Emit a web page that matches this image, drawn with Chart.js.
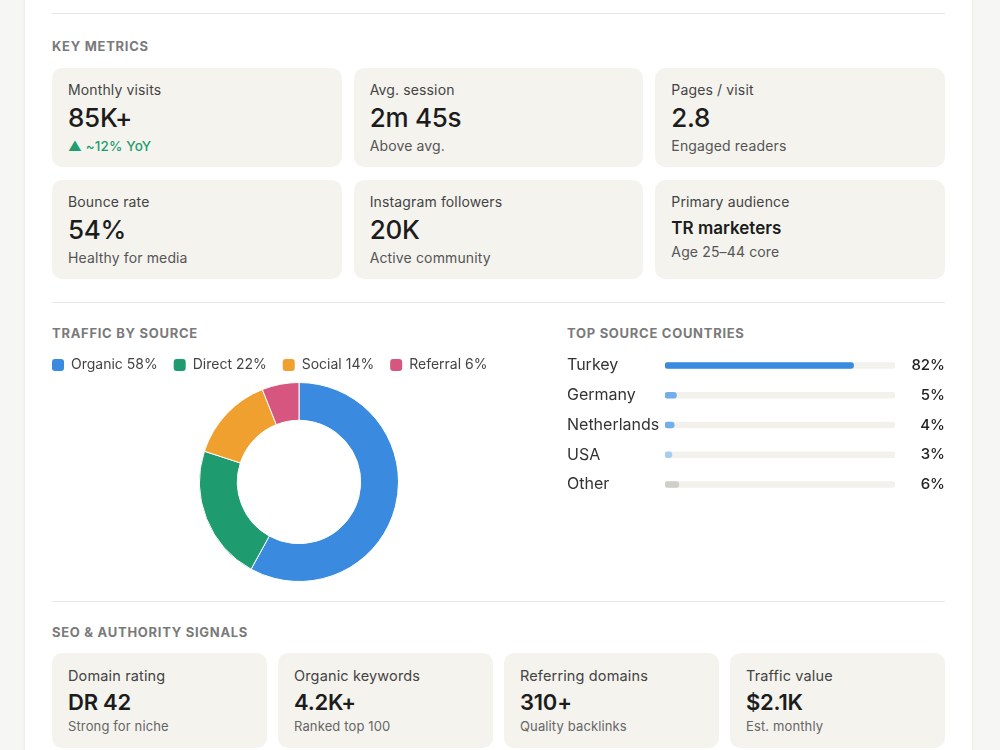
<!DOCTYPE html>
<html>
<head>
<meta charset="utf-8">
<script src="https://cdn.jsdelivr.net/npm/chart.js@4.4.1/dist/chart.umd.min.js"></script>
<style>
  html, body { margin: 0; padding: 0; }
  body {
    width: 1000px; height: 750px; overflow: hidden; position: relative;
    background: #f6f6f4; font-family: Inter, "Noto Sans", sans-serif; color: #1c1c1c;
  }
  .panel {
    position: absolute; left: 25px; top: -20px; width: 947px; height: 800px;
    background: #fff; box-shadow: 0 0 3px rgba(0,0,0,0.08);
  }
  .rule { position: absolute; left: 52px; width: 893px; height: 1px; background: #e6e6e2; }
  .head {
    position: absolute; font-size: 13px; line-height: 16px; font-weight: 700;
    letter-spacing: 0.055em; color: #7a7a7a; text-transform: uppercase;
  }
  .grid { position: absolute; left: 52px; width: 893px; display: grid; }
  .km { top: 68px; grid-template-columns: repeat(3, 1fr); grid-auto-rows: 99px; gap: 13px 12px; }
  .seo { top: 653px; grid-template-columns: repeat(4, 1fr); grid-auto-rows: 95px; gap: 11px; }
  .card { background: #f4f3ee; border-radius: 10px; padding: 13px 16px 0; box-sizing: border-box; }
  .lbl { font-size: 14px; line-height: 18px; color: #444; letter-spacing: 0.01em; }
  .val { font-size: 26px; line-height: 30px; margin-top: 4px; font-weight: 500; color: #1c1c1c; letter-spacing: -0.01em; }
  .sub { font-size: 14px; line-height: 18px; margin-top: 4px; color: #555; letter-spacing: 0.01em; }
  .up { color: #1f9d6e; font-weight: 500; font-size: 13.5px; }
  .val.small { font-size: 17px; line-height: 22px; margin-top: 6px; font-weight: 600; letter-spacing: 0; }
  .seo .card { padding-top: 14px; }
  .seo .lbl { font-size: 14.5px; letter-spacing: 0.01em; }
  .seo .val { font-size: 22px; line-height: 26px; font-weight: 600; margin-top: 4px; }
  .seo .sub { font-size: 13px; line-height: 16px; margin-top: 3px; color: #666; }
  #donutWrap { position: absolute; left: 36px; top: 342px; width: 526px; height: 240px; }
  #countryWrap { position: absolute; left: 567px; top: 341px; width: 378px; height: 168px; }
</style>
</head>
<body>
<div class="panel"></div>
<div class="rule" style="top:13px"></div>
<div class="head" style="left:52px; top:38px">Key metrics</div>
<div class="grid km" id="km"></div>
<div class="rule" style="top:302px"></div>
<div class="head" style="left:52px; top:325px">Traffic by source</div>
<div class="head" style="left:567px; top:325px">Top source countries</div>
<div id="donutWrap"><canvas id="donut"></canvas></div>
<div id="countryWrap"><canvas id="countries"></canvas></div>
<div class="rule" style="top:601px"></div>
<div class="head" style="left:52px; top:624px">SEO &amp; authority signals</div>
<div class="grid seo" id="seo"></div>

<script>
// Key metric tiles
const metricLabels = ['Monthly visits', 'Avg. session', 'Pages / visit', 'Bounce rate', 'Instagram followers', 'Primary audience'];
const metricValues = ['85K+', '2m 45s', '2.8', '54%', '20K', 'TR marketers'];
const metricNotes = ['▲ ~12% YoY', 'Above avg.', 'Engaged readers', 'Healthy for media', 'Active community', 'Age 25–44 core'];

// Traffic by source (doughnut)
const sourceLabels = ['Organic', 'Direct', 'Social', 'Referral'];
const sourceShares = [58, 22, 14, 6];
const sourceColors = ['#3a8be0', '#1f9b70', '#f0a02e', '#d6567f'];

// Top source countries (bars)
const countryLabels = ['Turkey', 'Germany', 'Netherlands', 'USA', 'Other'];
const countryShares = [82, 5, 4, 3, 6];
const countryColors = ['#3a8be0', '#74aeea', '#74aeea', '#a8cdf3', '#cfcfc7'];

// SEO tiles
const seoLabels = ['Domain rating', 'Organic keywords', 'Referring domains', 'Traffic value'];
const seoValues = ['DR 42', '4.2K+', '310+', '$2.1K'];
const seoNotes = ['Strong for niche', 'Ranked top 100', 'Quality backlinks', 'Est. monthly'];

function tile(label, value, note, extra) {
  const d = document.createElement('div');
  d.className = 'card';
  d.innerHTML = `<div class="lbl">${label}</div><div class="val ${extra.valCls || ''}">${value}</div>` +
    `<div class="sub ${extra.subCls || ''}">${note}</div>`;
  return d;
}

const km = document.getElementById('km');
metricLabels.forEach((l, i) => {
  km.appendChild(tile(l, metricValues[i], metricNotes[i], {
    valCls: i === 5 ? 'small' : '',
    subCls: i === 0 ? 'up' : '',
  }));
});
const seo = document.getElementById('seo');
seoLabels.forEach((l, i) => seo.appendChild(tile(l, seoValues[i], seoNotes[i], {})));

const font = 'Inter, "Noto Sans", sans-serif';

new Chart(document.getElementById('donut'), {
  type: 'doughnut',
  data: {
    labels: sourceLabels,
    datasets: [{
      data: sourceShares,
      backgroundColor: sourceColors,
      borderColor: '#ffffff',
      borderWidth: 1,
    }],
  },
  options: {
    responsive: true,
    maintainAspectRatio: false,
    animation: false,
    cutout: '62%',
    layout: { padding: 0 },
    plugins: {
      tooltip: { enabled: false },
      legend: {
        position: 'top',
        align: 'start',
        labels: {
          boxWidth: 12,
          boxHeight: 12,
          padding: 16,
          useBorderRadius: true,
          borderRadius: 3,
          color: '#444',
          font: { family: font, size: 14 },
          generateLabels: (chart) => {
            const base = Chart.overrides.doughnut.plugins.legend.labels.generateLabels(chart);
            return base.map((item, i) => ({ ...item, text: `${sourceLabels[i]} ${sourceShares[i]}%`, lineWidth: 0 }));
          },
        },
      },
    },
  },
});

new Chart(document.getElementById('countries'), {
  type: 'bar',
  data: {
    labels: countryLabels,
    datasets: [
      {
        data: countryShares,
        backgroundColor: countryColors,
        barThickness: 6,
        borderRadius: 3,
        borderSkipped: false,
        grouped: false,
      },
      {
        data: countryLabels.map(() => 100),
        backgroundColor: '#f2f1eb',
        barThickness: 6,
        borderRadius: 3,
        borderSkipped: false,
        grouped: false,
      },
    ],
  },
  options: {
    responsive: true,
    maintainAspectRatio: false,
    animation: false,
    indexAxis: 'y',
    layout: { padding: 0 },
    plugins: { legend: { display: false }, tooltip: { enabled: false } },
    scales: {
      x: { display: false, min: 0, max: 100 },
      y: {
        position: 'left',
        grid: { display: false },
        border: { display: false },
        ticks: { color: '#333', font: { family: font, size: 16 }, padding: 0, crossAlign: 'far', autoSkip: false },
        afterFit: (s) => { s.width = 98; },
      },
      y2: {
        type: 'category',
        labels: countryShares.map((v) => `${v}%`),
        position: 'right',
        offset: true,
        grid: { display: false },
        border: { display: false },
        ticks: { color: '#222', font: { family: font, size: 15, weight: 500 }, padding: 0, crossAlign: 'far', autoSkip: false },
        afterFit: (s) => { s.width = 50; },
      },
    },
  },
});
</script>
</body>
</html>
